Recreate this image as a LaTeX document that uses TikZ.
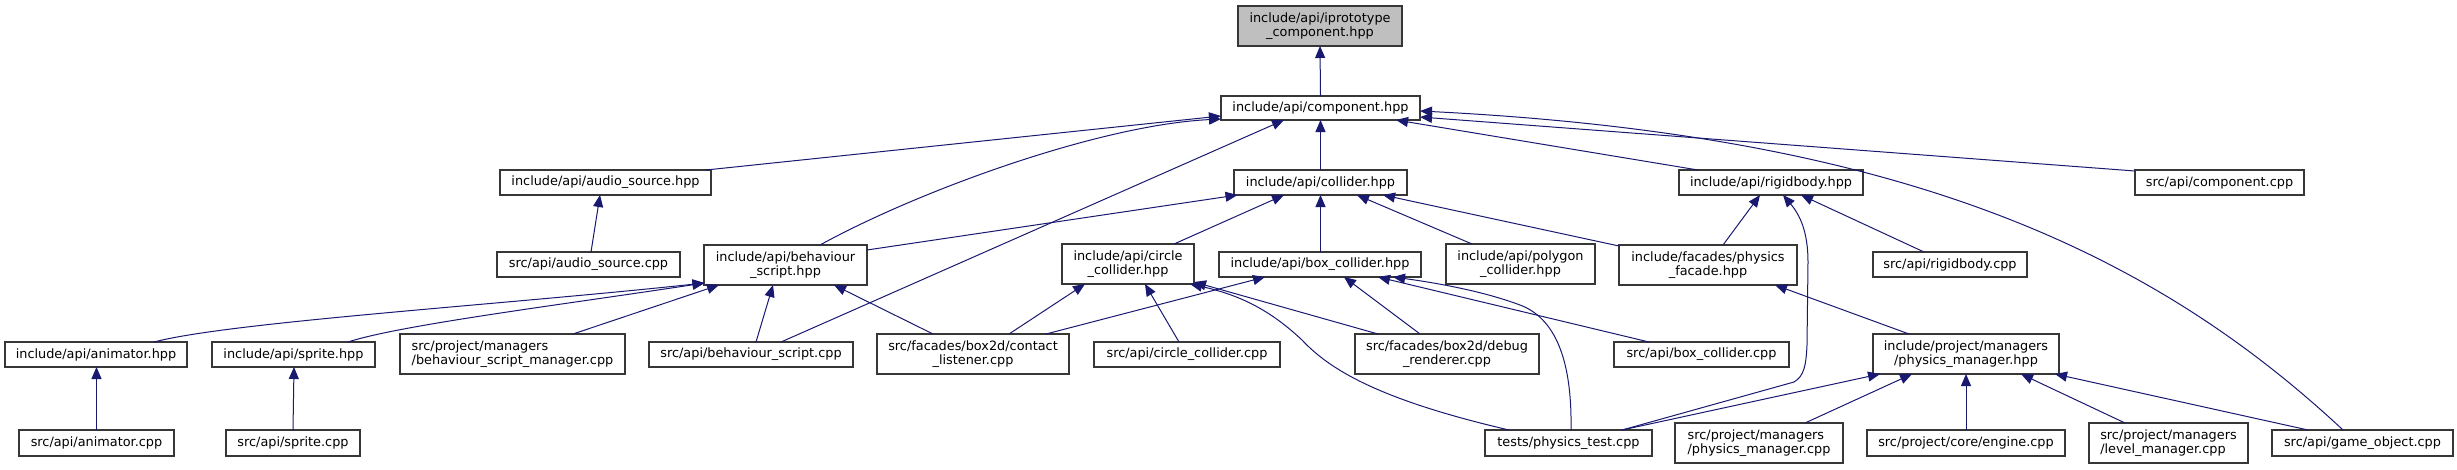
\documentclass[tikz,border=0pt]{standalone}
\usepackage{fontspec}
\setmainfont{DejaVu Sans}
\usetikzlibrary{arrows.meta,calc}
\definecolor{edgeblue}{RGB}{25,25,112}
\definecolor{boxgray}{RGB}{191,191,191}
\definecolor{boxline}{RGB}{55,55,55}
\newcommand{\fs}{\fontsize{12.85}{14.7}\selectfont}
\tikzset{
  fnode/.style={draw=boxline, line width=1.4pt, fill=white, inner sep=0pt, align=center, font=\fs},
  edge/.style={draw=edgeblue, line width=1.0pt, -{Triangle[length=12pt,width=10pt]}},
}
\newcommand{\mkbox}[7][]{\node[fnode,minimum width=#5pt,minimum height=#6pt,#1] (#2) at (#3,#4) {#7};}
\newcommand{\lnk}[4]{\draw[edge] ($(#1)+(#2)$) -- ($(#3)+(#4)$);}
\begin{document}
\begin{tikzpicture}[x=1pt,y=-1pt]
\useasboundingbox (0,0) rectangle (2457,469);
% nodes
\mkbox[fill=boxgray]{proto}{1320}{26}{164}{40}{include/api/iprototype\\\_component.hpp}
\mkbox{comp}{1320.5}{108}{199}{24}{include/api/component.hpp}
\mkbox{audioh}{605.5}{182.5}{211}{25}{include/api/audio\_source.hpp}
\mkbox{coll}{1320.5}{182.5}{173}{25}{include/api/collider.hpp}
\mkbox{rigidh}{1771}{182.5}{184}{25}{include/api/rigidbody.hpp}
\mkbox{compcpp}{2219.5}{182.5}{169}{25}{src/api/component.cpp}
\mkbox{audiocpp}{588.5}{264.5}{183}{25}{src/api/audio\_source.cpp}
\mkbox{behh}{785.5}{265}{163}{40}{include/api/behaviour\\\_script.hpp}
\mkbox{circh}{1128}{264}{132}{40}{include/api/circle\\\_collider.hpp}
\mkbox{boxh}{1320}{264.5}{202}{25}{include/api/box\_collider.hpp}
\mkbox{polyh}{1520.5}{264}{149}{40}{include/api/polygon\\\_collider.hpp}
\mkbox{facade}{1708}{265}{178}{40}{include/facades/physics\\\_facade.hpp}
\mkbox{rigidcpp}{1950}{264.5}{154}{25}{src/api/rigidbody.cpp}
\mkbox{anim}{96}{354.5}{182}{25}{include/api/animator.hpp}
\mkbox{sprite}{293.5}{354.5}{163}{25}{include/api/sprite.hpp}
\mkbox[align=left]{bsm}{512.5}{354}{225}{40}{src/project/managers\\/behaviour\_script\_manager.cpp}
\mkbox{bscpp}{751}{354.5}{204}{25}{src/api/behaviour\_script.cpp}
\mkbox{contact}{973}{354}{192}{40}{src/facades/box2d/contact\\\_listener.cpp}
\mkbox{circcpp}{1187}{354.5}{186}{25}{src/api/circle\_collider.cpp}
\mkbox{debug}{1447}{354}{184}{40}{src/facades/box2d/debug\\\_renderer.cpp}
\mkbox{boxcpp}{1701.5}{354.5}{175}{25}{src/api/box\_collider.cpp}
\mkbox{pmh}{1966}{354}{186}{40}{include/project/managers\\/physics\_manager.hpp}
\mkbox{animcpp}{96.5}{443}{155}{26}{src/api/animator.cpp}
\mkbox{spritecpp}{293}{443}{134}{26}{src/api/sprite.cpp}
\mkbox{ptest}{1568.5}{443}{167}{26}{tests/physics\_test.cpp}
\mkbox[align=left]{pmcpp}{1759}{443}{168}{40}{src/project/managers\\/physics\_manager.cpp}
\mkbox{engine}{1966}{443}{198}{26}{src/project/core/engine.cpp}
\mkbox[align=left]{lvl}{2168.5}{443}{159}{40}{src/project/managers\\/level\_manager.cpp}
\mkbox{gobj}{2362.5}{443}{181}{26}{src/api/game\_object.cpp}
% edges
\lnk{comp}{0,-12}{proto}{0,20}
\lnk{audioh}{100.5,-12.5}{comp}{-99.5,8}
\draw[edge] ($(behh)+(34.5,-20)$) .. controls (920,190) and (1100,125) .. ($(comp)+(-99.5,11)$);
\lnk{bscpp}{30,-12.5}{comp}{-36.5,12}
\lnk{coll}{0,-12.5}{comp}{0,12}
\lnk{rigidh}{-73,-12.5}{comp}{75.5,12}
\lnk{compcpp}{-84.5,-11.5}{comp}{99.5,9}
\draw[edge] ($(gobj)+(-19.5,-13)$) .. controls (2150,250) and (1900,135) .. ($(comp)+(99.5,3)$);
\lnk{behh}{81.5,-15}{coll}{-83,12.5}
\lnk{circh}{46,-20}{coll}{-36.5,12.5}
\lnk{boxh}{0.5,-12.5}{coll}{0,12.5}
\lnk{polyh}{-48.5,-20}{coll}{36.5,12.5}
\lnk{facade}{-89,-19}{coll}{62.5,12.5}
\lnk{facade}{15,-20}{rigidh}{-11,12.5}
\draw[edge] ($(ptest)+(53.5,-13)$) -- (1794,382) .. controls (1804,376) and (1806,366) .. (1807,345) -- (1808,262) .. controls (1808,232) and (1800,215) .. ($(rigidh)+(12,12.5)$);
\lnk{rigidcpp}{-26,-12.5}{rigidh}{30,12.5}
\lnk{audiocpp}{2.5,-12.5}{audioh}{-5.5,12.5}
\draw[edge] ($(anim)+(58,-12.5)$) .. controls (230,322) and (500,305) .. ($(behh)+(-81,18)$);
\draw[edge] ($(sprite)+(54.5,-12.5)$) .. controls (400,325) and (560,305) .. ($(behh)+(-81,18)$);
\lnk{bsm}{60.5,-20}{behh}{-66.5,20}
\lnk{bscpp}{5,-12.5}{behh}{-12.5,20}
\lnk{contact}{-40,-20}{behh}{48.5,20}
\lnk{contact}{36,-20}{circh}{-43,20}
\lnk{contact}{73,-20}{boxh}{-55,12.5}
\lnk{circcpp}{-8,-12.5}{circh}{17,20}
\draw[edge] ($(ptest)+(-59.5,-13)$) .. controls (1380,400) and (1330,370) .. (1302,340) .. controls (1270,310) and (1240,295) .. ($(circh)+(62,20)$);
\lnk{debug}{-69,-20}{circh}{66,18}
\lnk{debug}{-27,-20}{boxh}{24,12.5}
\draw[edge] ($(ptest)+(2.5,-13)$) .. controls (1572,370) and (1560,320) .. (1520,305) .. controls (1480,290) and (1430,282) .. ($(boxh)+(73,12.5)$);
\lnk{boxcpp}{-52.5,-12.5}{boxh}{58,12.5}
\lnk{pmh}{-57,-20}{facade}{67,20}
\lnk{ptest}{53.5,-13}{pmh}{-86,20}
\lnk{pmcpp}{46,-20}{pmh}{-54,20}
\lnk{engine}{0,-13}{pmh}{0,20}
\lnk{lvl}{-43.5,-20}{pmh}{55,20}
\lnk{gobj}{-54.5,-13}{pmh}{89,20}
\lnk{animcpp}{0,-13}{anim}{0.5,12.5}
\lnk{spritecpp}{0,-13}{sprite}{0.5,12.5}
\end{tikzpicture}
\end{document}
